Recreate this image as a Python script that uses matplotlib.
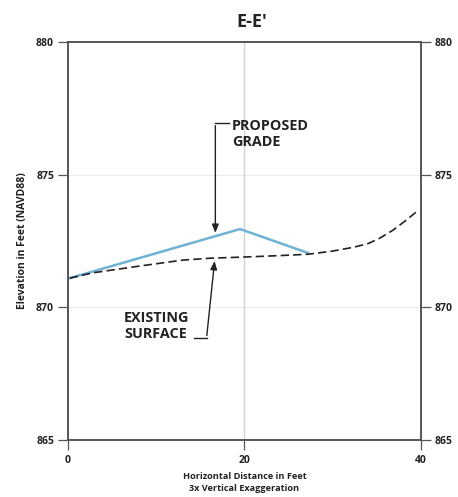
import numpy as np
import matplotlib.pyplot as plt

# profile data read from the section E-E'
prop_x = [0.2, 19.5, 27.2]
prop_y = [871.1, 872.95, 872.05]

exist_x = [0.2, 2.8, 8.0, 13.0, 16.1, 20.3, 24.0, 27.2, 30.0, 32.3, 34.0, 35.3, 36.8, 38.2, 39.5]
exist_y = [871.1, 871.3, 871.55, 871.78, 871.85, 871.9, 871.95, 872.0, 872.12, 872.26, 872.4, 872.6, 872.9, 873.25, 873.6]

xticks = [0, 20, 40]
yticks = [865, 870, 875, 880]

plt.rcParams['font.family'] = ['Open Sans', 'DejaVu Sans']

fig = plt.figure(figsize=(4.58, 4.97), dpi=100)
ax = fig.add_axes([0.1485, 0.1147, 0.7705, 0.8008])

ax.set_xlim(0, 40)
ax.set_ylim(865, 880)

# faint grid
for yv in [870, 875]:
    ax.axhline(yv, color='#ececec', lw=0.8, zorder=0)
ax.axvline(20, color='#d4d4d4', lw=1.0, zorder=0)

ax.plot(exist_x, exist_y, color='#222222', lw=1.2, ls=(0, (5, 2.5)), zorder=3)
ax.plot(prop_x, prop_y, color='#6fb2d4', lw=1.8, zorder=2)

for s in ax.spines.values():
    s.set_color('#555555')
    s.set_linewidth(1.4)

ax.set_xticks(xticks)
ax.set_yticks(yticks)
ax.tick_params(axis='both', labelsize=7.5, colors='#555555', length=7, width=0.9, pad=3)
ax.tick_params(axis='x', pad=4)
ax.tick_params(axis='y', right=True, labelright=True)
for lab in ax.get_xticklabels() + ax.get_yticklabels():
    lab.set_fontweight('bold')
    lab.set_color('#222222')

ax.set_title("E-E'", fontsize=13, fontweight='bold', color='#222222', pad=11, x=0.52)
ax.set_ylabel('Elevation in Feet (NAVD88)', fontsize=7.5, fontweight='bold', color='#222222', labelpad=6)
ax.set_xlabel('Horizontal Distance in Feet\n3x Vertical Exaggeration', fontsize=6.6,
              fontweight='bold', color='#222222', labelpad=4, linespacing=1.45)

# callouts
ax.text(18.55, 877.1, 'PROPOSED\nGRADE', fontsize=10.4, fontweight='bold', color='#222222',
        va='top', ha='left', linespacing=1.15)
ax.plot([16.7, 18.3], [876.95, 876.95], color='#222222', lw=1.0)
ax.annotate('', xy=(16.7, 872.7), xytext=(16.7, 876.95),
            arrowprops=dict(arrowstyle='-|>,head_length=0.5,head_width=0.2', color='#222222', lw=1.0))

ax.text(6.35, 869.85, 'EXISTING\nSURFACE', fontsize=10.4, fontweight='bold', color='#222222',
        va='top', ha='left', linespacing=1.15)
ax.plot([14.3, 15.7], [868.83, 868.83], color='#222222', lw=1.0)
ax.annotate('', xy=(16.65, 871.85), xytext=(15.7, 868.83),
            arrowprops=dict(arrowstyle='-|>,head_length=0.5,head_width=0.2', color='#222222', lw=1.0))

fig.savefig('out.png', dpi=100)
